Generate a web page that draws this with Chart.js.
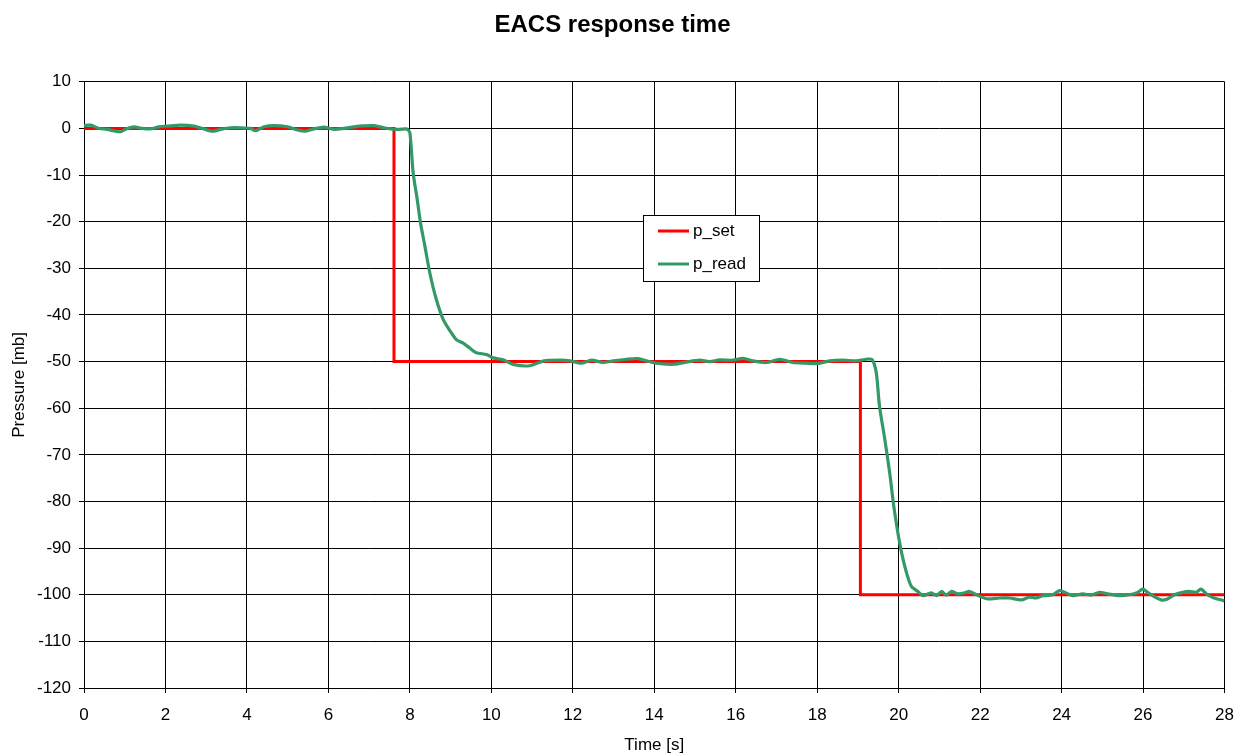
<!DOCTYPE html>
<html>
<head>
<meta charset="utf-8">
<script src="https://cdn.jsdelivr.net/npm/chart.js@4/dist/chart.umd.min.js"></script>
<style>
  html, body { margin: 0; padding: 0; background: #fff; }
  #wrap { width: 1246px; height: 756px; }
</style>
</head>
<body>
<div id="wrap"><canvas id="c" width="1246" height="756"></canvas></div>
<script>
const chartTitle = 'EACS response time';
const xTitle = 'Time [s]';
const yTitle = 'Pressure [mb]';
const seriesNames = ['p_set', 'p_read'];

// p_set step signal
const setTime = [0, 7.61, 7.61, 19.06, 19.06, 28];
const setPressure = [0, 0, -50, -50, -100, -100];

// p_read measured signal
const readTime = [
  0, 0.16, 0.37, 0.57, 0.78, 0.9, 1.06, 1.23, 1.43, 1.64, 1.84, 2.05, 2.37, 2.7, 2.94, 3.15, 3.35, 3.6,
  3.84, 4.09, 4.21, 4.42, 4.66, 4.99, 5.24, 5.44, 5.64, 5.89, 6.13, 6.38, 6.63, 6.87, 7.12, 7.36, 7.65, 7.89,
  7.93, 8.0, 8.08, 8.18, 8.26, 8.37, 8.49, 8.65, 8.82, 9.0, 9.14, 9.3, 9.47, 9.63, 9.88, 10.04, 10.29, 10.53,
  10.94, 11.27, 11.68, 11.93, 12.21, 12.46, 12.74, 12.99, 13.32, 13.6, 13.81, 14.05, 14.3, 14.5, 14.79, 15.11,
  15.36, 15.6, 15.93, 16.18, 16.42, 16.75, 17.08, 17.4, 17.73, 18.02, 18.3, 18.63, 18.96, 19.21, 19.35,
  19.45, 19.53, 19.66, 19.78, 19.88, 20.01, 20.15, 20.31, 20.47, 20.6, 20.8, 20.93, 21.05, 21.17, 21.29,
  21.46, 21.62, 21.74, 21.99, 22.19, 22.48, 22.72, 23.01, 23.21, 23.37, 23.54, 23.78, 23.95, 24.11, 24.27,
  24.52, 24.72, 24.93, 25.13, 25.42, 25.66, 25.87, 25.99, 26.19, 26.44, 26.6, 26.77, 26.97, 27.13, 27.3,
  27.42, 27.58, 27.74, 27.95, 28
];
const readPressure = [
  0.6, 0.7, 0, -0.2, -0.6, -0.7, 0, 0.35, 0, -0.1, 0.35, 0.5, 0.7, 0.5, -0.1, -0.6, -0.2, 0.15,
  0.15, 0, -0.5, 0.35, 0.6, 0.35, -0.35, -0.6, -0.1, 0.3, -0.2, 0, 0.35, 0.55, 0.6, 0.15, -0.2, -0.1,
  -0.1, -0.9, -9.5, -15.2, -20.2, -25.3, -31.0, -36.7, -41.0, -43.6, -45.3, -46.0, -47.1, -48.1, -48.5, -49.2, -49.6, -50.6,
  -50.9, -49.9, -49.7, -49.85, -50.35, -49.7, -50.2, -49.85, -49.5, -49.35, -49.85, -50.35, -50.55, -50.55, -50.1, -49.7,
  -50, -49.65, -49.7, -49.3, -49.85, -50.2, -49.5, -50.2, -50.35, -50.4, -49.85, -49.7, -49.85, -49.5, -49.6,
  -52.4, -59.6, -66.7, -73.9, -81.0, -88.2, -93.9, -98.2, -99.3, -100.2, -99.6, -100.2, -99.3, -100.1, -99.3,
  -99.8, -99.6, -99.3, -100.35, -100.9, -100.7, -100.7, -101.1, -100.5, -100.7, -100.2, -100, -99.1, -99.6, -100.2,
  -99.8, -100.1, -99.5, -99.8, -100.2, -100, -99.5, -98.8, -100, -101.1, -100.9, -100, -99.5, -99.3, -99.5,
  -98.8, -100, -100.7, -101.2, -101.3
];

const xTicks = { min: 0, max: 28, step: 2 };
const yTicks = { min: -120, max: 10, step: 10 };

const FONT = "'Liberation Sans', Arial, sans-serif";
const colors = ['#ff0000', '#339966'];

const toPoints = (xs, ys) => xs.map((x, i) => ({ x: x, y: ys[i] }));

const legendBox = {
  id: 'legendBox',
  afterDraw(chart) {
    const ctx = chart.ctx;
    const bx = 643, by = 215, bw = 116, bh = 66;
    ctx.save();
    ctx.fillStyle = '#fff';
    ctx.fillRect(bx, by, bw, bh);
    ctx.strokeStyle = '#000';
    ctx.lineWidth = 1;
    ctx.strokeRect(bx + 0.5, by + 0.5, bw, bh);
    const rows = [by + 16, by + 49];
    chart.data.datasets.forEach((ds, i) => {
      ctx.strokeStyle = ds.borderColor;
      ctx.lineWidth = 3;
      ctx.beginPath();
      ctx.moveTo(bx + 15, rows[i]);
      ctx.lineTo(bx + 46, rows[i]);
      ctx.stroke();
      ctx.fillStyle = '#000';
      ctx.font = '17px ' + FONT;
      ctx.textBaseline = 'middle';
      ctx.textAlign = 'left';
      ctx.fillText(ds.label, bx + 50, rows[i]);
    });
    ctx.restore();
  }
};

new Chart(document.getElementById('c'), {
  type: 'line',
  data: {
    datasets: [
      {
        label: seriesNames[0],
        data: toPoints(setTime, setPressure),
        borderColor: colors[0],
        backgroundColor: colors[0],
        borderWidth: 3,
        pointRadius: 0,
        tension: 0,
        fill: false,
        order: 1
      },
      {
        label: seriesNames[1],
        data: toPoints(readTime, readPressure),
        borderColor: colors[1],
        backgroundColor: colors[1],
        borderWidth: 3.2,
        pointRadius: 0,
        tension: 0.25,
        fill: false,
        order: 0
      }
    ]
  },
  options: {
    responsive: false,
    animation: false,
    layout: { padding: { left: 0, right: 21, top: 0, bottom: 0 } },
    plugins: {
      legend: { display: false },
      tooltip: { enabled: false },
      title: {
        display: true,
        text: chartTitle,
        color: '#000',
        font: { family: FONT, size: 24, weight: 'bold' },
        padding: { top: 11, bottom: 42 }
      }
    },
    scales: {
      x: {
        type: 'linear',
        min: xTicks.min,
        max: xTicks.max,
        afterFit(scale) { scale.height = 68; },
        ticks: {
          stepSize: xTicks.step,
          color: '#000',
          padding: 12,
          maxRotation: 0,
          font: { family: FONT, size: 17 }
        },
        grid: { color: '#000', lineWidth: 1, tickLength: 5 },
        border: { color: '#000', width: 1 },
        title: {
          display: true,
          text: xTitle,
          color: '#000',
          font: { family: FONT, size: 17 },
          padding: { top: 0, bottom: 0 }
        }
      },
      y: {
        type: 'linear',
        min: yTicks.min,
        max: yTicks.max,
        afterFit(scale) { scale.width = 84; },
        ticks: {
          stepSize: yTicks.step,
          color: '#000',
          padding: 8,
          font: { family: FONT, size: 17 }
        },
        grid: { color: '#000', lineWidth: 1, tickLength: 5 },
        border: { color: '#000', width: 1 },
        title: {
          display: true,
          text: yTitle,
          color: '#000',
          font: { family: FONT, size: 17 },
          padding: { top: 9, bottom: 0 }
        }
      }
    }
  },
  plugins: [legendBox]
});
</script>
</body>
</html>
